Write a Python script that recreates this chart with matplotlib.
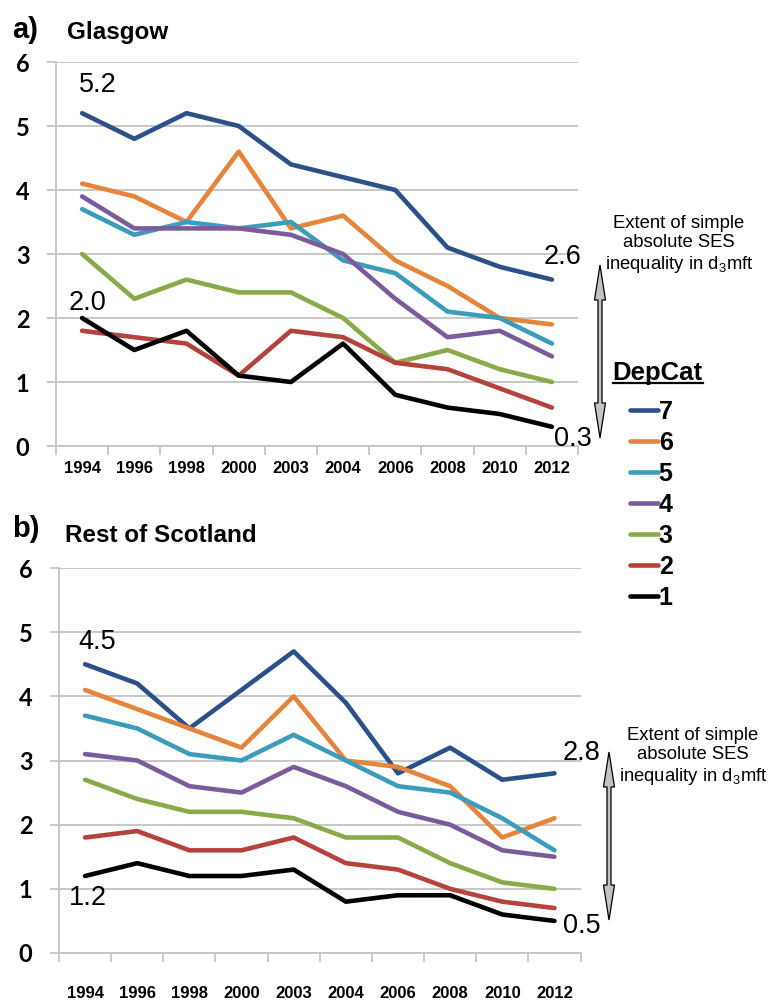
import matplotlib
matplotlib.use("Agg")
import matplotlib.pyplot as plt
import numpy as np
from matplotlib.patches import Polygon
from matplotlib.lines import Line2D

plt.rcParams['font.family'] = ['Liberation Sans', 'DejaVu Sans']
plt.rcParams['mathtext.fontset'] = 'custom'
plt.rcParams['mathtext.rm'] = 'Liberation Sans'
plt.rcParams['mathtext.default'] = 'rm'

years = ["1994", "1996", "1998", "2000", "2003", "2004", "2006", "2008", "2010", "2012"]
depcats = ["7", "6", "5", "4", "3", "2", "1"]
colors = ["#2a5189", "#e5843a", "#3b9cbb", "#7a5c9d", "#88aa48", "#b4433e", "#000000"]

glasgow_7 = [5.2, 4.8, 5.2, 5.0, 4.4, 4.2, 4.0, 3.1, 2.8, 2.6]
glasgow_6 = [4.1, 3.9, 3.5, 4.6, 3.4, 3.6, 2.9, 2.5, 2.0, 1.9]
glasgow_5 = [3.7, 3.3, 3.5, 3.4, 3.5, 2.9, 2.7, 2.1, 2.0, 1.6]
glasgow_4 = [3.9, 3.4, 3.4, 3.4, 3.3, 3.0, 2.3, 1.7, 1.8, 1.4]
glasgow_3 = [3.0, 2.3, 2.6, 2.4, 2.4, 2.0, 1.3, 1.5, 1.2, 1.0]
glasgow_2 = [1.8, 1.7, 1.6, 1.1, 1.8, 1.7, 1.3, 1.2, 0.9, 0.6]
glasgow_1 = [2.0, 1.5, 1.8, 1.1, 1.0, 1.6, 0.8, 0.6, 0.5, 0.3]

rest_7 = [4.5, 4.2, 3.5, 4.1, 4.7, 3.9, 2.8, 3.2, 2.7, 2.8]
rest_6 = [4.1, 3.8, 3.5, 3.2, 4.0, 3.0, 2.9, 2.6, 1.8, 2.1]
rest_5 = [3.7, 3.5, 3.1, 3.0, 3.4, 3.0, 2.6, 2.5, 2.1, 1.6]
rest_4 = [3.1, 3.0, 2.6, 2.5, 2.9, 2.6, 2.2, 2.0, 1.6, 1.5]
rest_3 = [2.7, 2.4, 2.2, 2.2, 2.1, 1.8, 1.8, 1.4, 1.1, 1.0]
rest_2 = [1.8, 1.9, 1.6, 1.6, 1.8, 1.4, 1.3, 1.0, 0.8, 0.7]
rest_1 = [1.2, 1.4, 1.2, 1.2, 1.3, 0.8, 0.9, 0.9, 0.6, 0.5]

glasgow = [glasgow_7, glasgow_6, glasgow_5, glasgow_4, glasgow_3, glasgow_2, glasgow_1]
rest = [rest_7, rest_6, rest_5, rest_4, rest_3, rest_2, rest_1]

W, H = 773, 1000
fig = plt.figure(figsize=(W / 100, H / 100), dpi=100)

def fx(px):
    return px / W

def fy(py):
    return 1 - py / H

ax1 = fig.add_axes([fx(56), fy(446), (578 - 56) / W, (446 - 62) / H])
ax2 = fig.add_axes([fx(59), fy(953), (580.5 - 59) / W, (953 - 568) / H])

gridc = "#c4c4c4"

def style(ax, xpad):
    ax.set_xlim(-0.5, len(years) - 0.5)
    ax.set_ylim(0, 6)
    ax.set_yticks(range(0, 7))
    ax.grid(axis='y', color=gridc, linewidth=1.3)
    ax.set_axisbelow(True)
    for s in ['top', 'right']:
        ax.spines[s].set_visible(False)
    for s in ['left', 'bottom']:
        ax.spines[s].set_color(gridc)
        ax.spines[s].set_linewidth(1.3)
    ax.set_xticks(np.arange(-0.5, len(years), 1.0), minor=True)
    ax.tick_params(axis='x', which='minor', length=6.5, width=1.3, color=gridc)
    ax.tick_params(axis='x', which='major', length=0, pad=xpad)
    ax.tick_params(axis='y', length=6.5, width=1.3, color=gridc, pad=12.5)
    for lab in ax.get_yticklabels():
        lab.set_fontfamily('Lato')
        lab.set_fontweight('bold')
        lab.set_fontsize(17)
    for lab in ax.get_xticklabels():
        lab.set_fontweight('bold')
        lab.set_fontsize(12)

handles = []
for ax, data in [(ax1, glasgow), (ax2, rest)]:
    for vals, c, lab in zip(data, colors, depcats):
        ln, = ax.plot(years, vals, color=c, lw=3.3, solid_capstyle='round',
                      solid_joinstyle='round', label=lab)
        if ax is ax1:
            handles.append(ln)

style(ax1, 11)
style(ax2, 24)

def lab(ax, x, v, dx, dy):
    ax.annotate(f"{v:.1f}", xy=(x, v), xytext=(dx, dy), textcoords='offset points',
                ha='center', va='center', fontsize=19.5, annotation_clip=False)

lab(ax1, 0, glasgow_7[0], 11, 20)
lab(ax1, 0, glasgow_1[0], 3.6, 11)
lab(ax1, 9, glasgow_7[-1], 8, 16)
lab(ax1, 9, glasgow_1[-1], 15, -9)
lab(ax2, 0, rest_7[0], 8.6, 16)
lab(ax2, 0, rest_1[0], 2, -16)
lab(ax2, 9, rest_7[-1], 19.5, 15)
lab(ax2, 9, rest_1[-1], 19.5, -4)

# titles
fig.text(fx(12), fy(30), "a)", fontsize=21, fontweight='bold', va='center', ha='left')
fig.text(fx(67), fy(33), "Glasgow", fontsize=17.5, fontweight='bold', va='center', ha='left')
fig.text(fx(12), fy(529), "b)", fontsize=21, fontweight='bold', va='center', ha='left')
fig.text(fx(65), fy(535), "Rest of Scotland", fontsize=17.5, fontweight='bold', va='center', ha='left')

def double_arrow(x, ytop, ybot, shaft=4, head=11, hlen=35):
    s, h = shaft / 2, head / 2
    pts = [
        (x, ytop), (x + h, ytop + hlen), (x + s, ytop + hlen), (x + s, ybot - hlen),
        (x + h, ybot - hlen), (x, ybot), (x - h, ybot - hlen), (x - s, ybot - hlen),
        (x - s, ytop + hlen), (x - h, ytop + hlen),
    ]
    poly = Polygon([(fx(a), fy(b)) for a, b in pts], closed=True, transform=fig.transFigure,
                   facecolor="#c2c2c2", edgecolor="black", linewidth=0.9)
    fig.add_artist(poly)

double_arrow(600, 265, 438)
double_arrow(609, 752, 920)

ext = "Extent of simple\nabsolute SES\ninequality in d$_3$mft"
fig.text(fx(679), fy(245), ext, fontsize=13.3, ha='center', va='center', linespacing=1.15)
fig.text(fx(693), fy(757), ext, fontsize=13.3, ha='center', va='center', linespacing=1.15)

# legend
fig.text(fx(612), fy(373), "DepCat", fontsize=18.5, fontweight='bold', ha='left', va='center')
fig.add_artist(Line2D([fx(613), fx(703)], [fy(383), fy(383)], color='black', lw=1.6,
                      transform=fig.transFigure))
leg = fig.legend(handles=handles, labels=depcats, loc='upper left',
                 bbox_to_anchor=(fx(630), fy(400)), frameon=False, borderpad=0,
                 borderaxespad=0, handlelength=1.1, handletextpad=0.05,
                 labelspacing=0.28, prop={'weight': 'bold', 'size': 18})

fig.savefig("out.png", dpi=100)
